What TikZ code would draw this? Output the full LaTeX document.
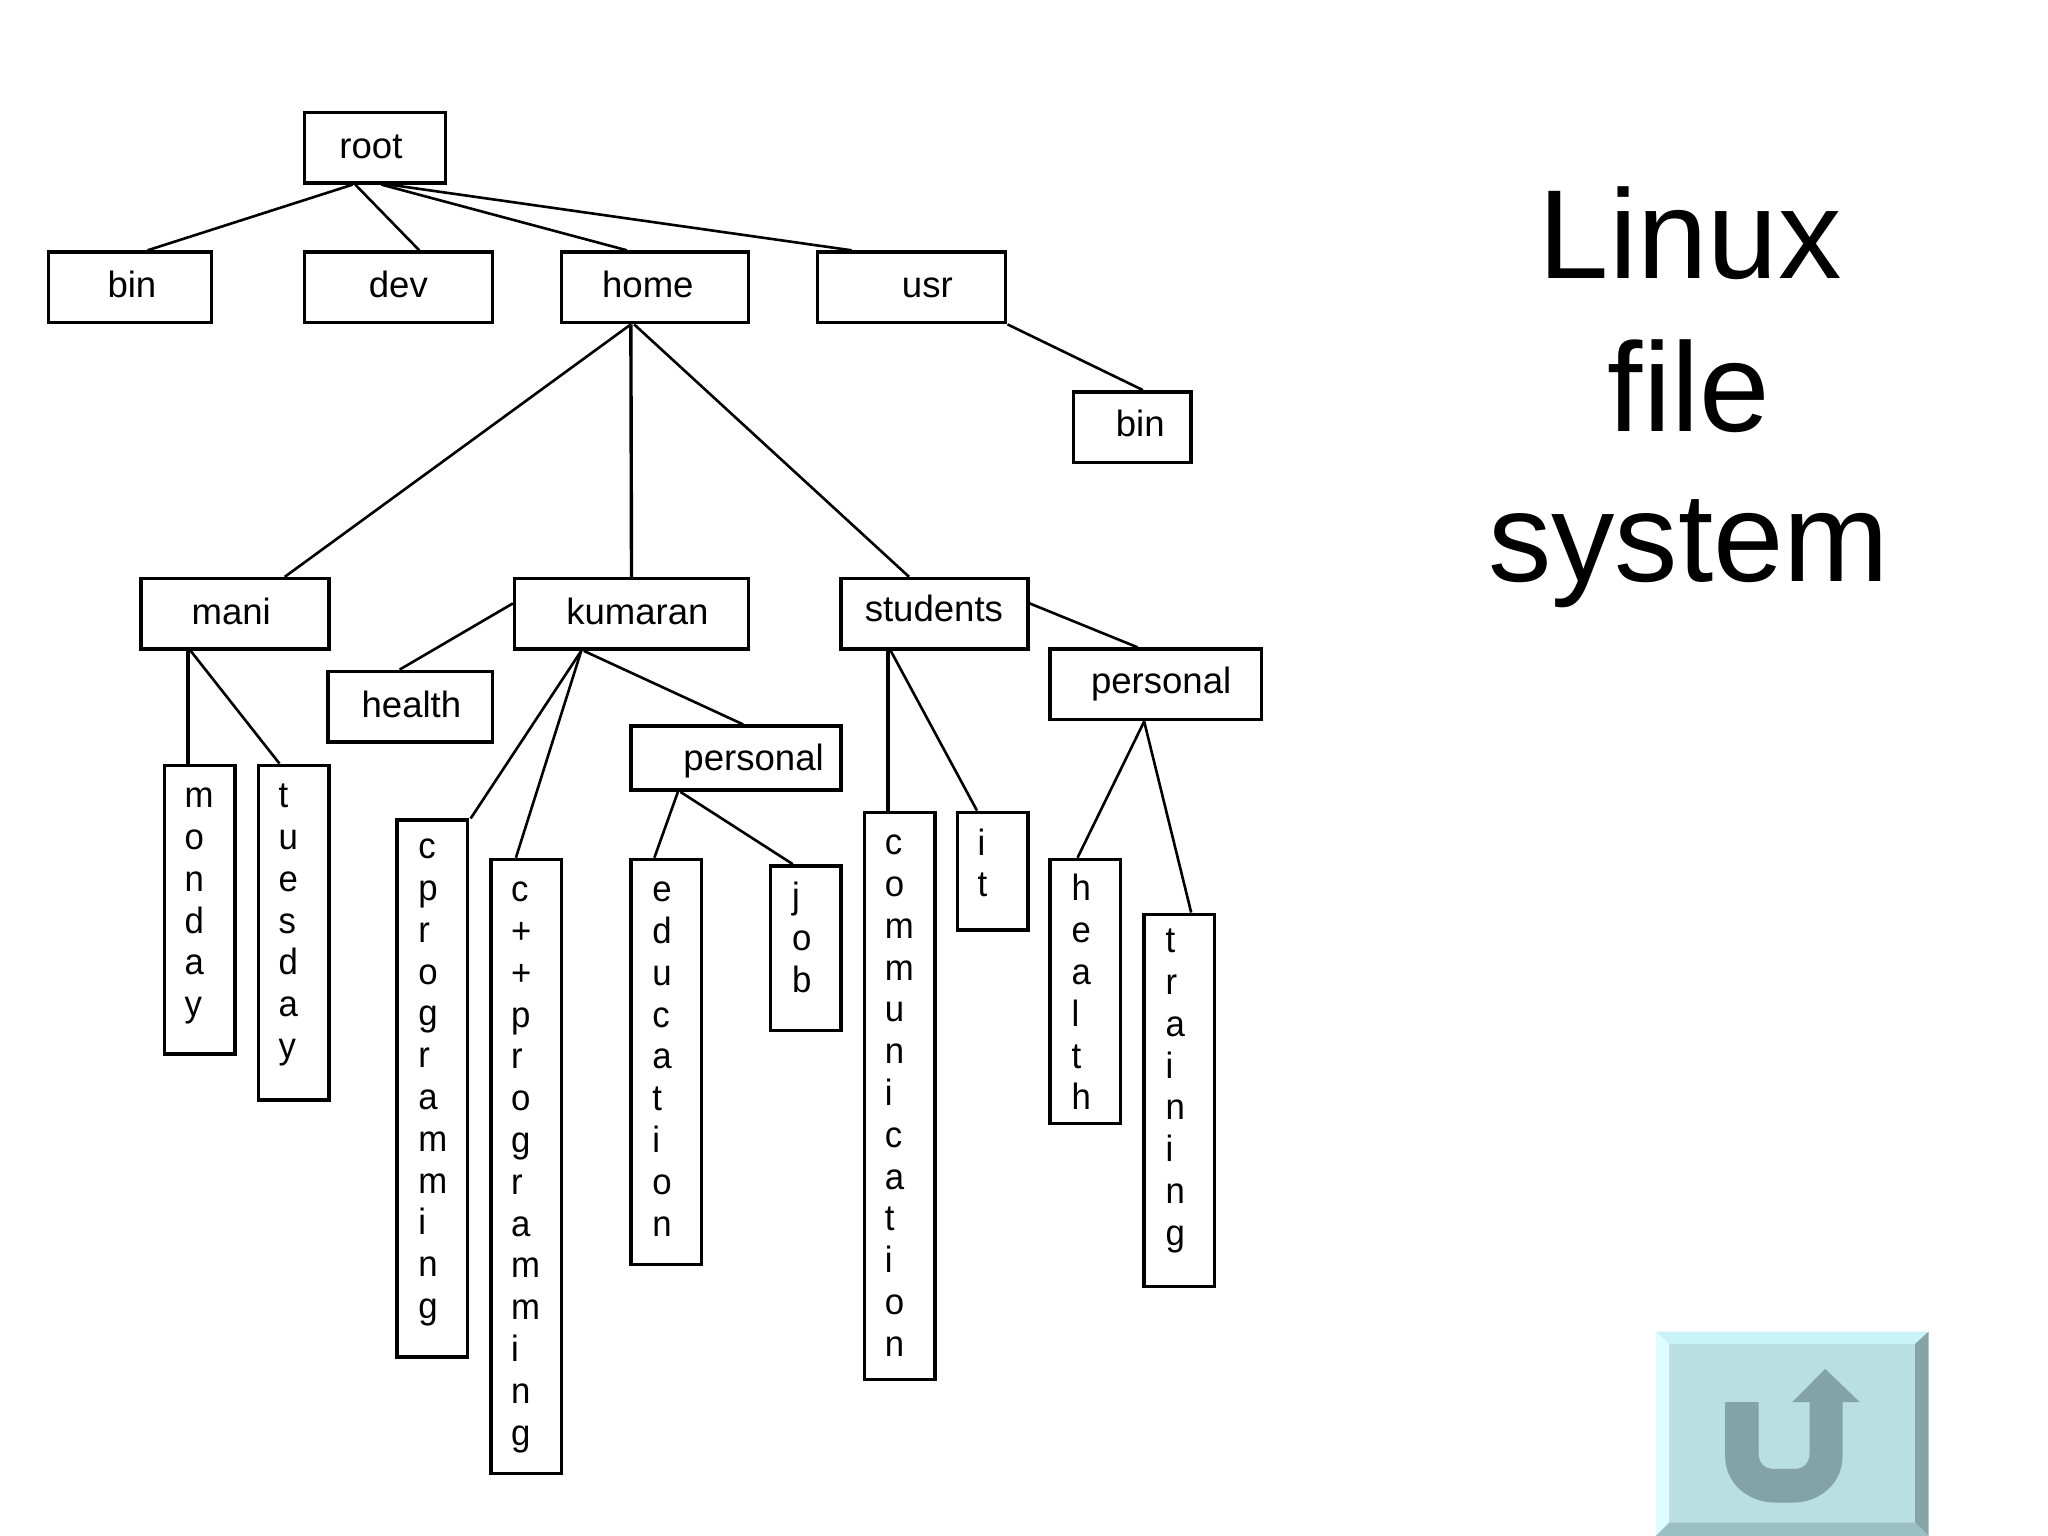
\documentclass[tikz,border=0pt]{standalone}
\usepackage{fontspec}
\setmainfont{Liberation Sans}
\newfontfamily\narrowf[FakeStretch=0.95]{Liberation Sans}
\definecolor{btnface}{HTML}{B9DFE3}
\definecolor{btntop}{HTML}{C9F4F7}
\definecolor{btnleft}{HTML}{DDFDFE}
\definecolor{btnright}{HTML}{86A3A6}
\definecolor{btnbottom}{HTML}{9CBFC3}
\definecolor{btnarrow}{HTML}{84A3A7}
\tikzset{
  boxnode/.style={draw=black,line width=1.35pt,inner sep=0pt,fill=white},
  conn/.style={draw=black,line width=1pt},
  hlabel/.style={inner sep=0pt,anchor=base,font=\fontsize{14}{16}\selectfont},
  vlabel/.style={inner sep=0pt,anchor=north west,align=left,font=\narrowf\fontsize{14}{16}\selectfont},
  title/.style={inner sep=0pt,anchor=base,font=\fontsize{48.5}{57}\selectfont}
}
% name, x1, y1, x2, y2
\newcommand{\bx}[5]{%
  \pgfmathsetmacro{\bw}{(#4-#2)*0.5}\pgfmathsetmacro{\bh}{(#5-#3)*0.5}%
  \node[boxnode,minimum width=\bw pt,minimum height=\bh pt] (#1) at ({(#2+#4)/2},{(#3+#5)/2}) {};}
% name, x, first baseline, text
\newcommand{\vl}[4]{\node[vlabel] (#1) at (#2,{#3-20}) {\rule{0pt}{10pt}#4};}
% anchor a, dx a, anchor b, dx b
\newcommand{\cn}[4]{\draw[conn] ([xshift=#2*0.5pt]#1) -- ([xshift=#4*0.5pt]#3);}
\begin{document}
\begin{tikzpicture}[x=0.5pt,y=-0.5pt]
\useasboundingbox (0,0) rectangle (1568,1176);
\bx{root}{233}{86}{341}{140}
\bx{bina}{37}{193}{162}{247}
\bx{dev}{233}{193}{377}{247}
\bx{home}{430}{193}{573}{247}
\bx{usr}{626}{193}{770}{247}
\bx{binb}{822}{300}{912}{354}
\bx{mani}{108}{443}{252}{497}
\bx{kumaran}{394}{443}{573}{497}
\bx{students}{644}{443}{787}{497}
\bx{healtha}{251}{514}{377}{568}
\bx{personalb}{804}{497}{966}{551}
\bx{personala}{483}{556}{644}{605}
\bx{monday}{126}{586}{180}{807}
\bx{tuesday}{198}{586}{252}{842}
\bx{cprog}{304}{628}{358}{1039}
\bx{cpp}{376}{658}{430}{1128}
\bx{education}{483}{658}{537}{968}
\bx{job}{590}{663}{644}{789}
\bx{communication}{662}{622}{716}{1056}
\bx{it}{733}{622}{787}{712}
\bx{healthb}{804}{658}{858}{860}
\bx{training}{876}{700}{930}{985}

\cn{root.south}{-17}{bina.north}{13.5}
\cn{root.south}{-15}{dev.north}{16}
\cn{root.south}{5}{home.north}{-21.5}
\cn{root.south}{11}{usr.north}{-46}
\cn{usr.south east}{0}{binb.north}{8}
\cn{home.south}{-18.5}{mani.north}{38}
\draw[conn,line width=1.3pt] ([xshift=-9.25pt]home.south) -- (kumaran.north);
\cn{home.south}{-16}{students.north}{-19.5}
\draw[conn] ([yshift=4pt]students.east) -- ([xshift=-7pt]personalb.north);
\draw[conn] ([yshift=4pt]kumaran.west) -- ([xshift=-4pt]healtha.north);
\cn{kumaran.south}{-38.5}{cprog.north east}{1}
\cn{kumaran.south}{-38.5}{cpp.north}{-8}
\cn{kumaran.south}{-36.5}{personala.north}{5.5}
\draw[conn,line width=1.3pt] ([xshift=-18pt]mani.south) -- ([xshift=-4.5pt]monday.north);
\cn{mani.south}{-34}{tuesday.north}{-11}
\cn{personala.south}{-44.5}{education.north}{-9}
\cn{personala.south}{-42.5}{job.north}{-10}
\draw[conn,line width=1.3pt] ([xshift=-17.75pt]students.south) -- ([xshift=-4.5pt]communication.north);
\cn{students.south}{-33.5}{it.north}{-12}
\cn{personalb.south}{-9}{healthb.north}{-6}
\cn{personalb.south}{-9}{training.north}{9}

\node[hlabel] (trooot) at (284,121) {root};
\node[hlabel] (tbina) at (101,228) {bin};
\node[hlabel] (tdev) at (305,228) {dev};
\node[hlabel] (thome) at (496,228) {home};
\node[hlabel] (tusr) at (710,228) {usr};
\node[hlabel] (tbinb) at (873,334) {bin};
\node[hlabel] (tmani) at (177,478) {mani};
\node[hlabel] (tkumaran) at (488,478) {kumaran};
\node[hlabel] (tstudents) at (715,476) {students};
\node[hlabel] (thealtha) at (315,549) {health};
\node[hlabel] (tpersonalb) at (889,531) {personal};
\node[hlabel] (tpersonala) at (577,590) {personal};

\vl{tmonday}{141}{618}{m\\o\\n\\d\\a\\y}
\vl{ttuesday}{213}{618}{t\\u\\e\\s\\d\\a\\y}
\vl{tcprog}{320}{657}{c\\p\\r\\o\\g\\r\\a\\m\\m\\i\\n\\g}
\vl{tcpp}{391}{690}{c\\+\\+\\p\\r\\o\\g\\r\\a\\m\\m\\i\\n\\g}
\vl{teducation}{499}{690}{e\\d\\u\\c\\a\\t\\i\\o\\n}
\vl{tjob}{606}{695}{j\\o\\b}
\vl{tcomm}{677}{654}{c\\o\\m\\m\\u\\n\\i\\c\\a\\t\\i\\o\\n}
\vl{tit}{748}{654}{i\\t}
\vl{thealthb}{820}{689}{h\\e\\a\\l\\t\\h}
\vl{ttraining}{892}{729}{t\\r\\a\\i\\n\\i\\n\\g}

\node[title] (tlinux) at (1294,213) {Linux};
\node[title] (tfile) at (1293,330) {file};
\node[title] (tsystem) at (1293,445) {system};

\begin{scope}[x=0.1276pt,y=-0.1276pt,shift={(4860,3900)}]
  \fill[btnface] (148,132) rectangle (886,668);
  \fill[btntop] (108,95) -- (926,95) -- (886,132) -- (148,132) -- cycle;
  \fill[btnleft] (108,95) -- (148,132) -- (148,668) -- (108,708) -- cycle;
  \fill[btnright] (926,95) -- (926,708) -- (886,668) -- (886,132) -- cycle;
  \fill[btnbottom] (108,708) -- (148,668) -- (886,668) -- (926,708) -- cycle;
  \fill[btnarrow] (316,307) -- (416,307) -- (416,460)
    .. controls (416,490) and (435,507) .. (460,507) -- (525,507)
    .. controls (550,507) and (569,490) .. (569,460) -- (569,307)
    -- (517,307) -- (616,207) -- (720,307) -- (668,307) -- (668,470)
    .. controls (668,550) and (600,608) .. (520,608) -- (465,608)
    .. controls (385,608) and (316,550) .. (316,470) -- cycle;
\end{scope}
\end{tikzpicture}
\end{document}
